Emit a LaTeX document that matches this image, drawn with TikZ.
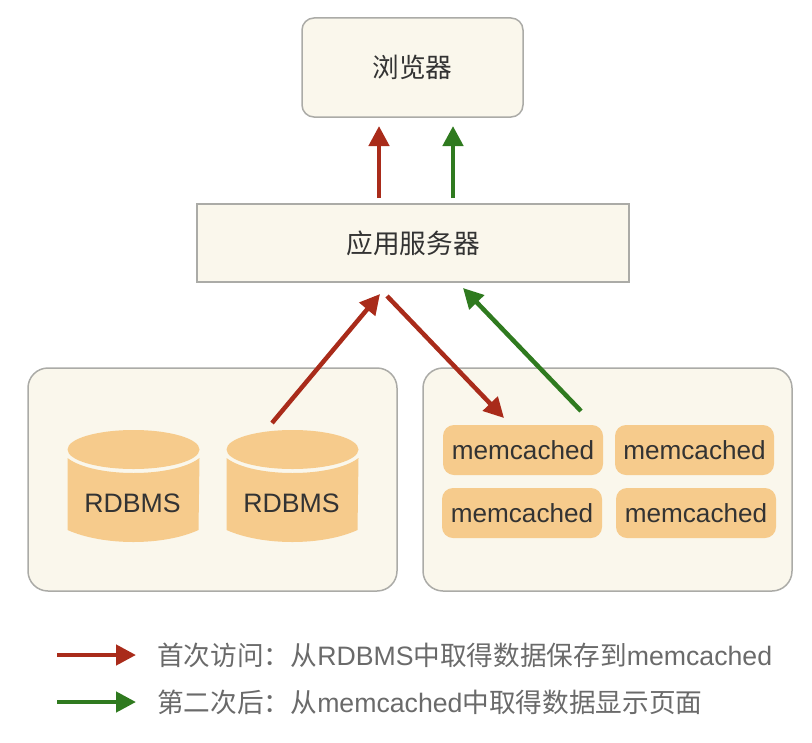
\documentclass[tikz,border=0pt]{standalone}
\usepackage{fontspec}
\setmainfont{Liberation Sans}
\newfontfamily\cjk{Noto Sans CJK SC}
\usepackage{xcolor}
\usetikzlibrary{arrows.meta, positioning}
\definecolor{panelfill}{HTML}{FAF7EC}
\definecolor{panelline}{HTML}{ABABA7}
\definecolor{cacheorange}{HTML}{F6CB8C}
\definecolor{firstred}{HTML}{A92B1A}
\definecolor{secondgreen}{HTML}{2F7A1F}
\definecolor{labeltext}{HTML}{333333}
\definecolor{legendtext}{HTML}{6A6A6A}
\def\px{0.75pt}
\def\widecolon{\symbol{"FF1A}}
\tikzset{%
	box/.style={
		draw=panelline,
		fill=panelfill,
		line width=1.5*\px,
		inner sep=0pt,
		text=labeltext,
		font=\fontsize{20pt}{24pt}\selectfont
	},
	cachebox/.style={
		fill=cacheorange,
		rounded corners=11*\px,
		minimum width=160*\px,
		minimum height=50*\px,
		inner sep=0pt,
		text=labeltext,
		font=\fontsize{19.6pt}{24pt}\selectfont
	},
	dblabel/.style={
		inner sep=0pt,
		text=labeltext,
		font=\fontsize{20pt}{24pt}\selectfont
	},
	legendlabel/.style={
		anchor=west,
		inner sep=0pt,
		text=legendtext,
		font=\fontsize{20pt}{24pt}\selectfont
	},
	flow/.style={
		line width=4.5*\px,
		-{Triangle[length=20*\px,width=20*\px]}
	},
}
\begin{document}
\begin{tikzpicture}[x=0.75pt,y=-0.75pt]
	\useasboundingbox (0,0) rectangle (812,742);
	
	% Browser and application server
	\node[box, rounded corners=12*\px, minimum width=221*\px, minimum height=99*\px] (browser) at (412.5,67.5) {\cjk 浏览器};
	\node[box, minimum width=432*\px, minimum height=78*\px] (appserver) at (413,243) {\cjk 应用服务器};
	
	% Two panels at the bottom
	\node[box, rounded corners=20*\px, minimum width=369*\px, minimum height=223*\px] (dbpanel) at (212.5,479.5) {};
	\node[box, rounded corners=20*\px, minimum width=369*\px, minimum height=223*\px] (cachepanel) at (607.5,479.5) {};
	
	% Database cylinders
	\foreach \name/\cx in {dbleft/133.5, dbright/292.5} {
		\begin{scope}[xshift=\cx*\px]
			\fill[cacheorange] (0,449.5) ellipse [x radius=66, y radius=19.5];
			\fill[cacheorange] (-66,458) .. controls (-40,478) and (40,478) .. (66,458)
				-- (65,530) .. controls (30,546) and (-30,546) .. (-66,530) -- cycle;
			\node[dblabel] (\name) at (-1,503) {RDBMS};
		\end{scope}
	}
	
	% memcached boxes
	\node[cachebox] (cachea) at (523,450) {memcached};
	\node[cachebox, minimum width=159*\px] (cacheb) at (694.5,450) {memcached};
	\node[cachebox] (cachec) at (522,513) {memcached};
	\node[cachebox] (cached) at (696,513) {memcached};
	
	% Free arrow ends
	\coordinate (redupstart) at (379,198);
	\coordinate (redupend) at (379,126);
	\coordinate (greenupstart) at (453,198);
	\coordinate (greenupend) at (453,126);
	\coordinate (dbout) at (272,423);
	\coordinate (dbarrive) at (380,294);
	\coordinate (cachesend) at (387,296);
	\coordinate (cachearrive) at (504,418);
	\coordinate (cacheout) at (581,411);
	\coordinate (cachereturn) at (463,288);
	
	% Arrows
	\draw[flow, firstred] (redupstart) -- (redupend);
	\draw[flow, secondgreen] (greenupstart) -- (greenupend);
	\draw[flow, firstred] (dbout) -- (dbarrive);
	\draw[flow, firstred] (cachesend) -- (cachearrive);
	\draw[flow, secondgreen] (cacheout) -- (cachereturn);
	
	% Legend
	\coordinate (firststart) at (57,655);
	\coordinate (firstend) at (136,655);
	\coordinate (secondstart) at (57,702);
	\coordinate (secondend) at (136,702);
	\draw[flow, firstred] (firststart) -- (firstend);
	\draw[flow, secondgreen] (secondstart) -- (secondend);
	\node[legendlabel] (firstlabel) at (157,655) {{\cjk 首次访问\widecolon 从}RDBMS{\cjk 中取得数据保存到}memcached};
	\node[legendlabel] (secondlabel) at (157,702) {{\cjk 第二次后\widecolon 从}memcached{\cjk 中取得数据显示页面}};
\end{tikzpicture}
\end{document}
